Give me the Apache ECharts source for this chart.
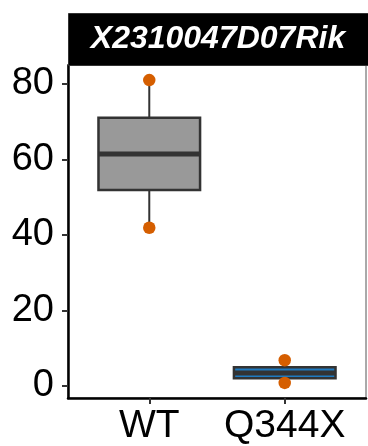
<!DOCTYPE html>
<html><head><meta charset="utf-8">
<script src="https://cdn.jsdelivr.net/npm/echarts@6/dist/echarts.min.js"></script>
<style>html,body{margin:0;padding:0;background:#fff}#c{width:368px;height:446px}</style>
</head><body><div id="c"></div>
<script>
const categories = ['WT', 'Q344X'];
const boxMin = [41.9, 0.8];
const boxQ1 = [51.9, 2.0];
const boxMedian = [61.4, 3.45];
const boxQ3 = [71.0, 4.95];
const boxMax = [81.0, 6.8];
const pointsWT = [81.0, 41.9];
const pointsQ344X = [6.8, 0.8];
const yTicks = [0, 20, 40, 60, 80];
const stripTitle = 'X2310047D07Rik';

const fills = ['#999999', '#1f7ac0'];
const pointSets = [pointsWT, pointsQ344X];

const boxData = categories.map((c, i) => [i + 1, boxMin[i], boxQ1[i], boxMedian[i], boxQ3[i], boxMax[i]]);
const pointData = [];
pointSets.forEach((arr, i) => arr.forEach(v => pointData.push([i + 1, v])));

const chart = echarts.init(document.getElementById('c'), null, {renderer: 'canvas'});
const FONT = '"Liberation Sans", Arial, sans-serif';
chart.setOption({
  animation: false,
  grid: {left: 68, right: 2, top: 65, bottom: 47, show: true, borderColor: '#555', borderWidth: 1, backgroundColor: '#fff'},
  xAxis: {
    type: 'value', min: 0.4, max: 2.6,
    splitLine: {show: false},
    axisLine: {show: true, onZero: false, lineStyle: {color: '#000', width: 2.5}},
    axisTick: {show: true, customValues: [1, 2], length: 6, lineStyle: {color: '#333', width: 2}},
    axisLabel: {customValues: [1, 2], formatter: v => categories[Math.round(v) - 1] || '', color: '#000', fontSize: 39, fontFamily: FONT, margin: 9}
  },
  yAxis: {
    type: 'value', min: -3.2, max: 85,
    splitLine: {show: false},
    axisLine: {show: true, onZero: false, lineStyle: {color: '#000', width: 2.5}},
    axisTick: {show: true, customValues: yTicks, length: 6, lineStyle: {color: '#333', width: 2}},
    axisLabel: {customValues: yTicks, color: '#000', fontSize: 38, fontFamily: FONT, margin: 14}
  },
  graphic: [
    {type: 'rect', left: 68, top: 13, shape: {width: 300, height: 52}, style: {fill: '#000', stroke: '#333', lineWidth: 1}, z: 10},
    {type: 'text', x: 218, y: 39, style: {text: stripTitle, fill: '#fff', font: 'italic bold 32px ' + FONT, align: 'center', verticalAlign: 'middle'}, z: 11}
  ],
  series: [
    {
      type: 'custom',
      data: boxData,
      encode: {x: 0, y: [1, 2, 3, 4, 5]},
      renderItem: function (params, api) {
        const x = api.value(0);
        const half = 0.375;
        const pMin = api.coord([x, api.value(1)]);
        const pQ1 = api.coord([x, api.value(2)]);
        const pMed = api.coord([x, api.value(3)]);
        const pQ3 = api.coord([x, api.value(4)]);
        const pMax = api.coord([x, api.value(5)]);
        const xl = api.coord([x - half, 0])[0];
        const xr = api.coord([x + half, 0])[0];
        const i = params.dataIndex;
        return {
          type: 'group',
          children: [
            {type: 'line', shape: {x1: pQ3[0], y1: pQ3[1], x2: pMax[0], y2: pMax[1]}, style: {stroke: '#333', lineWidth: 2}},
            {type: 'line', shape: {x1: pQ1[0], y1: pQ1[1], x2: pMin[0], y2: pMin[1]}, style: {stroke: '#333', lineWidth: 2}},
            {type: 'rect', shape: {x: xl, y: pQ3[1], width: xr - xl, height: pQ1[1] - pQ3[1]}, style: {fill: fills[i], stroke: '#333', lineWidth: 2.5}},
            {type: 'line', shape: {x1: xl, y1: pMed[1], x2: xr, y2: pMed[1]}, style: {stroke: '#333', lineWidth: 5}}
          ]
        };
      },
      z: 2
    },
    {
      type: 'scatter',
      data: pointData,
      symbol: 'circle',
      symbolSize: 12.5,
      itemStyle: {color: '#D55E00', opacity: 1},
      z: 3
    }
  ]
});
</script></body></html>
